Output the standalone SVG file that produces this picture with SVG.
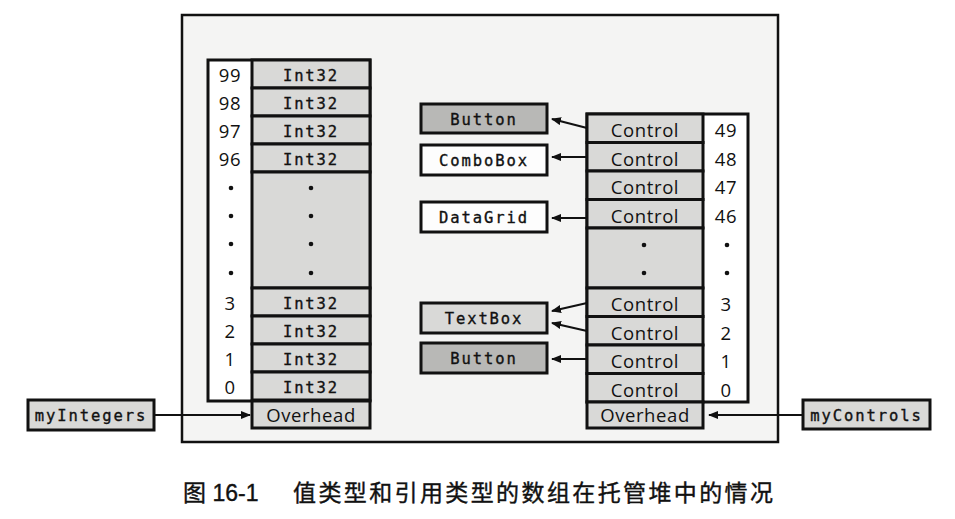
<svg xmlns="http://www.w3.org/2000/svg" width="955" height="519" viewBox="0 0 955 519">
<style>
.frame{fill:#f4f4f3;stroke:#111;stroke-width:2.5}
.white{fill:#fff;stroke:#111;stroke-width:3}
.cell{fill:#d9d9d7;stroke:#111;stroke-width:3}
.dark{fill:#b8b8b6;stroke:#111;stroke-width:3}
.wbox{fill:#fdfdfd;stroke:#111;stroke-width:3}
.mono{font-family:"DejaVu Sans Mono","Liberation Mono",monospace;font-size:15.5px;letter-spacing:1.9px;fill:#111;stroke:#111;stroke-width:0.35;text-anchor:middle}
.sans{font-family:"Open Sans","Noto Sans",sans-serif;font-size:18.5px;letter-spacing:0.6px;fill:#111;text-anchor:middle}
.dot{fill:#111}
.conn{stroke:#111;stroke-width:2.2;fill:none}
.cap{font-family:"Liberation Sans","Noto Sans CJK SC",sans-serif;font-size:23px;fill:#111;stroke:#111;stroke-width:0.4}
</style>
<defs>
<marker id="ah" viewBox="0 0 10 8" refX="9" refY="4" markerWidth="10" markerHeight="8" markerUnits="userSpaceOnUse" orient="auto">
<path d="M0,0 L10,4 L0,8 Z" fill="#111"/>
</marker>
</defs>
<rect class="frame" x="182" y="15" width="596" height="427"/>

<g id="intArray">
<rect class="white" x="208" y="60" width="162" height="341"/>
<rect class="cell" x="252" y="60" width="118" height="28"/>
<rect class="cell" x="252" y="88" width="118" height="28"/>
<rect class="cell" x="252" y="116" width="118" height="28"/>
<rect class="cell" x="252" y="144" width="118" height="28"/>
<rect class="cell" x="252" y="172" width="118" height="116"/>
<rect class="cell" x="252" y="288" width="118" height="28"/>
<rect class="cell" x="252" y="316" width="118" height="28"/>
<rect class="cell" x="252" y="344" width="118" height="28"/>
<rect class="cell" x="252" y="372" width="118" height="28"/>
<text class="mono" x="311" y="80.5">Int32</text>
<text class="mono" x="311" y="108.5">Int32</text>
<text class="mono" x="311" y="136.5">Int32</text>
<text class="mono" x="311" y="164.5">Int32</text>
<text class="mono" x="311" y="308.5">Int32</text>
<text class="mono" x="311" y="336.5">Int32</text>
<text class="mono" x="311" y="364.5">Int32</text>
<text class="mono" x="311" y="392.5">Int32</text>
<text class="sans" x="230" y="82">99</text>
<text class="sans" x="230" y="110">98</text>
<text class="sans" x="230" y="138">97</text>
<text class="sans" x="230" y="166">96</text>
<text class="sans" x="230" y="310">3</text>
<text class="sans" x="230" y="338">2</text>
<text class="sans" x="230" y="366">1</text>
<text class="sans" x="230" y="394">0</text>
<circle class="dot" cx="231" cy="188" r="2.3"/>
<circle class="dot" cx="231" cy="216" r="2.3"/>
<circle class="dot" cx="231" cy="244" r="2.3"/>
<circle class="dot" cx="231" cy="273" r="2.3"/>
<circle class="dot" cx="311" cy="188" r="2.3"/>
<circle class="dot" cx="311" cy="216" r="2.3"/>
<circle class="dot" cx="311" cy="244" r="2.3"/>
<circle class="dot" cx="311" cy="273" r="2.3"/>
</g>
<g id="intOverhead">
<rect class="cell" x="252" y="401" width="118" height="27"/>
<text class="sans" x="311" y="421.5">Overhead</text>
</g>

<g id="ctlArray">
<rect class="white" x="587" y="114" width="161" height="288"/>
<rect class="cell" x="587" y="114" width="116" height="28.5"/>
<rect class="cell" x="587" y="142.5" width="116" height="28.5"/>
<rect class="cell" x="587" y="171" width="116" height="28.5"/>
<rect class="cell" x="587" y="199.5" width="116" height="28.5"/>
<rect class="cell" x="587" y="228" width="116" height="60"/>
<rect class="cell" x="587" y="288" width="116" height="28.5"/>
<rect class="cell" x="587" y="316.5" width="116" height="28.5"/>
<rect class="cell" x="587" y="345" width="116" height="28.5"/>
<rect class="cell" x="587" y="373.5" width="116" height="28.5"/>
<text class="sans" x="645" y="137">Control</text>
<text class="sans" x="645" y="165.5">Control</text>
<text class="sans" x="645" y="194">Control</text>
<text class="sans" x="645" y="222.5">Control</text>
<text class="sans" x="645" y="311">Control</text>
<text class="sans" x="645" y="339.5">Control</text>
<text class="sans" x="645" y="368">Control</text>
<text class="sans" x="645" y="396.5">Control</text>
<text class="sans" x="726" y="137">49</text>
<text class="sans" x="726" y="165.5">48</text>
<text class="sans" x="726" y="194">47</text>
<text class="sans" x="726" y="222.5">46</text>
<text class="sans" x="726" y="311">3</text>
<text class="sans" x="726" y="339.5">2</text>
<text class="sans" x="726" y="368">1</text>
<text class="sans" x="726" y="396.5">0</text>
<circle class="dot" cx="644" cy="245" r="2.3"/>
<circle class="dot" cx="644" cy="273" r="2.3"/>
<circle class="dot" cx="727" cy="245" r="2.3"/>
<circle class="dot" cx="727" cy="273" r="2.3"/>
</g>
<g id="ctlOverhead">
<rect class="cell" x="587" y="402" width="116" height="26"/>
<text class="sans" x="645" y="422">Overhead</text>
</g>

<g id="button1">
<rect class="dark" x="421" y="104" width="126" height="29"/>
<text class="mono" x="484" y="125">Button</text>
</g>
<g id="comboBox">
<rect class="wbox" x="421" y="145" width="126" height="30"/>
<text class="mono" x="484" y="166">ComboBox</text>
</g>
<g id="dataGrid">
<rect class="wbox" x="421" y="202" width="126" height="30"/>
<text class="mono" x="484" y="223">DataGrid</text>
</g>
<g id="textBox">
<rect class="cell" x="421" y="303" width="126" height="30"/>
<text class="mono" x="484" y="324">TextBox</text>
</g>
<g id="button2">
<rect class="dark" x="421" y="343" width="126" height="30"/>
<text class="mono" x="484" y="364">Button</text>
</g>
<g id="myIntegers">
<rect class="cell" x="28" y="400" width="126" height="30"/>
<text class="mono" x="91" y="421">myIntegers</text>
</g>
<g id="myControls">
<rect class="cell" x="803" y="400" width="127" height="29"/>
<text class="mono" x="866.5" y="420.5">myControls</text>
</g>

<g id="connectors">
<path class="conn" d="M587,128 L552,119" marker-end="url(#ah)"/>
<path class="conn" d="M587,157 L552,157" marker-end="url(#ah)"/>
<path class="conn" d="M587,218 L552,218" marker-end="url(#ah)"/>
<path class="conn" d="M587,303 L552,311" marker-end="url(#ah)"/>
<path class="conn" d="M587,331 L552,323" marker-end="url(#ah)"/>
<path class="conn" d="M587,359 L552,359" marker-end="url(#ah)"/>
<path class="conn" d="M154,415 L250,415" marker-end="url(#ah)"/>
<path class="conn" d="M803,415 L709,415" marker-end="url(#ah)"/>
</g>

<text class="cap" x="183" y="501">图 16-1</text>
<text class="cap" x="293" y="501" textLength="480" lengthAdjust="spacing">值类型和引用类型的数组在托管堆中的情况</text>
</svg>
